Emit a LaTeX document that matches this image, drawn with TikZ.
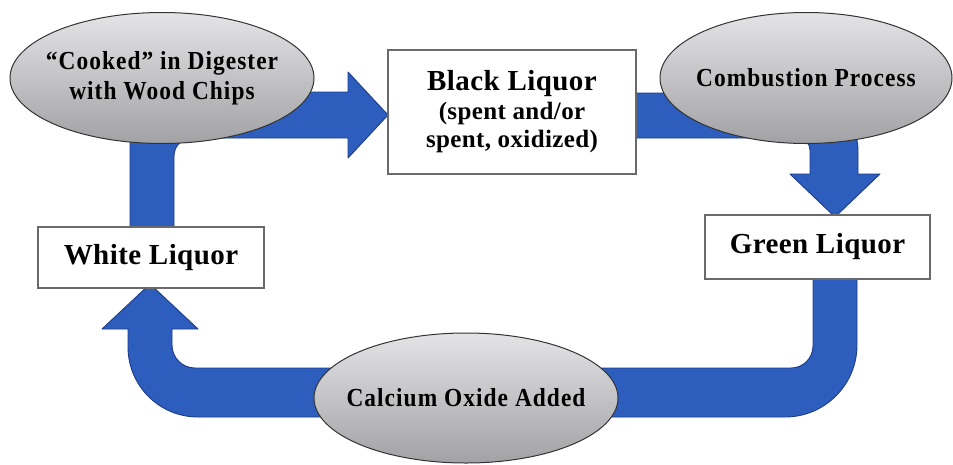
\documentclass[tikz,border=0pt]{standalone}
\usepackage{fontspec}
\setmainfont{Liberation Serif}[LetterSpace=1.5]
\newfontfamily\ellfont{Liberation Serif}[FakeStretch=0.9,LetterSpace=4]
\usetikzlibrary{shapes.geometric}
\definecolor{arrowblue}{HTML}{2D5EBE}
\definecolor{arrowedge}{HTML}{1C3C86}
\definecolor{boxedge}{HTML}{6A6A6A}
\definecolor{elltop}{HTML}{E4E3E6}
\definecolor{ellmid}{HTML}{D2D1D4}
\definecolor{ellbot}{HTML}{A2A2A4}
\tikzset{
  blockarrow/.style={fill=arrowblue, draw=arrowedge, line width=0.9pt, line join=round},
  liquorbox/.style={draw=boxedge, line width=1.2pt, fill=white, inner sep=0pt, align=center,
    font=\bfseries\fontsize{29}{31}\selectfont},
  stepell/.style={ellipse, draw=black!80, line width=1pt, top color=elltop, middle color=ellmid, bottom color=ellbot,
    inner sep=0pt},
  elltext/.style={inner sep=0pt, align=center, font=\ellfont\bfseries\fontsize{26}{30}\selectfont}
}
\begin{document}
\begin{tikzpicture}[x=1pt,y=1pt]
\useasboundingbox (0,0) rectangle (953,-464);
% block arrows
\draw[blockarrow] (130,-227) -- (130,-140) arc(180:90:48) -- (348,-92)
  -- (348,-72) -- (388,-115) -- (348,-158) -- (348,-138) -- (192,-138)
  arc(90:180:18) -- (174,-227) -- cycle;
\draw[blockarrow] (636,-93) -- (800,-93) arc(90:0:58) -- (858,-174)
  -- (880,-174) -- (835,-217) -- (790,-174) -- (810,-174) -- (810,-150)
  arc(0:90:12) -- (636,-138) -- cycle;
\draw[blockarrow] (813,-279) -- (857,-279) -- (857,-345) arc(0:-90:72)
  -- (560,-417) -- (560,-368) -- (791,-368) arc(-90:0:22) -- cycle;
\draw[blockarrow] (400,-368) -- (195,-368) arc(270:180:23) -- (172,-329)
  -- (198,-329) -- (150,-284) -- (102,-329) -- (128,-329) -- (128,-347)
  arc(180:270:70) -- (400,-417) -- cycle;
% boxes
\node[liquorbox, minimum width=226pt, minimum height=61pt] (white) at (151,-257.5) {White Liquor};
\node[liquorbox, minimum width=248pt, minimum height=124pt] (black) at (512,-112)
  {Black Liquor\\[-2pt]{\fontsize{25}{28}\selectfont (spent and/or}\\[-3pt]{\fontsize{25}{28}\selectfont spent, oxidized)}};
\node[liquorbox, minimum width=225pt, minimum height=64pt] (green) at (817.5,-247) {Green Liquor};
% ellipses
\node[stepell, minimum width=304pt, minimum height=131pt,
  label={[elltext]center:{“Cooked” in Digester\\with Wood Chips}}] (cooked) at (162,-78) {};
\node[stepell, minimum width=292pt, minimum height=131pt,
  label={[elltext]center:Combustion Process}] (combust) at (806,-78) {};
\node[stepell, minimum width=304pt, minimum height=130pt,
  label={[elltext]center:Calcium Oxide Added}] (calcium) at (466,-398) {};
\end{tikzpicture}
\end{document}
